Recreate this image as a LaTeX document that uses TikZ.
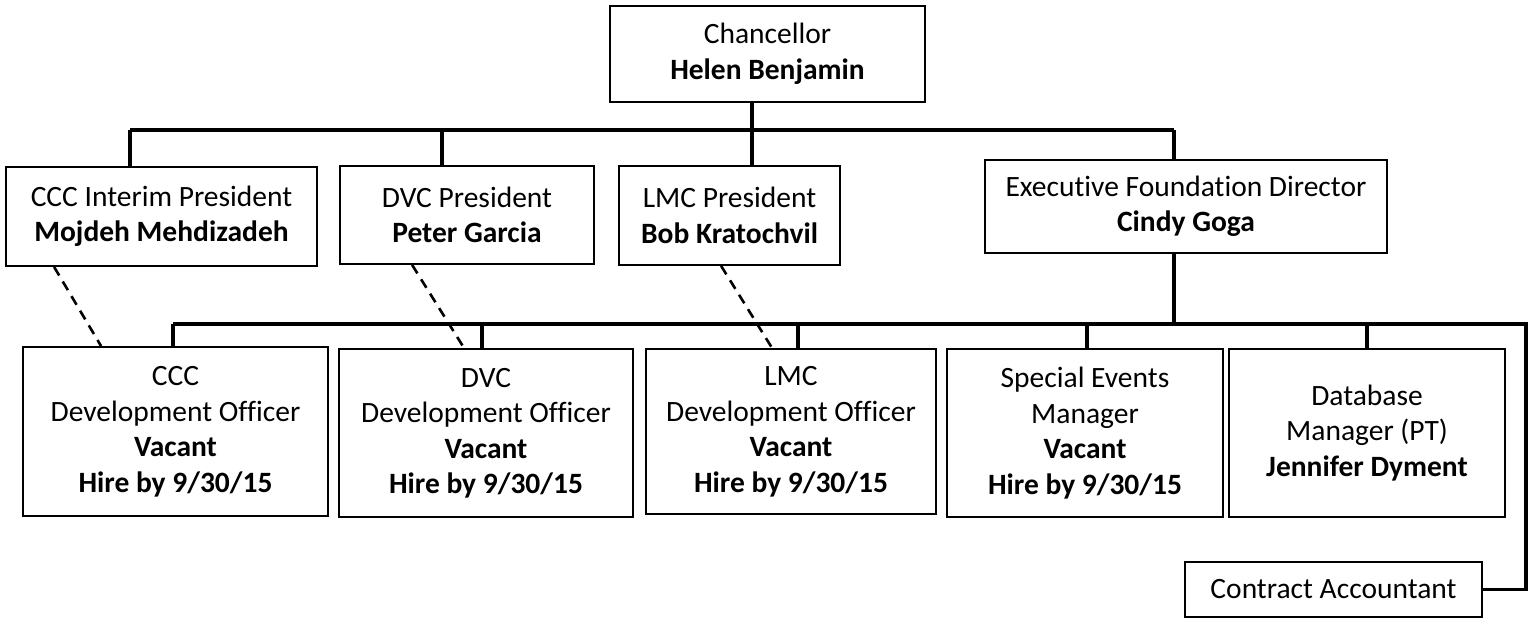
\documentclass[tikz,border=0pt]{standalone}
\usepackage{fontspec}
\setmainfont{Carlito}[Ligatures=NoCommon]
\begin{document}
\begin{tikzpicture}[x=1pt,y=-1pt,
  box/.style={draw, line width=1.8pt, inner sep=0pt, align=center,
    font=\fontsize{29.5}{35.5}\selectfont},
  conn/.style={line width=3.2pt},
  dlink/.style={line width=2.6pt, dash pattern=on 10pt off 7pt}]
\useasboundingbox (0,0) rectangle (1533,628);
% upper level
\node[box, minimum width=315pt, minimum height=96pt] (chan) at (767.5,54) {Chancellor\\\textbf{Helen Benjamin}};
\node[box, minimum width=311pt, minimum height=99pt] (ccci) at (161.5,216.5) {CCC Interim President\\\textbf{Mojdeh Mehdizadeh}};
\node[box, minimum width=254pt, minimum height=98pt] (dvcp) at (467,215) {DVC President\\\textbf{Peter Garcia}};
\node[box, minimum width=221pt, minimum height=99pt] (lmcp) at (729.5,215.5) {LMC President\\\textbf{Bob Kratochvil}};
\node[box, minimum width=402pt, minimum height=93pt] (exec) at (1186,206.5) {Executive Foundation Director\\\textbf{Cindy Goga}};
% lower level
\node[box, minimum width=305pt, minimum height=169pt] (cccd) at (175.5,431.5) {CCC\\Development Officer\\\textbf{Vacant}\\\textbf{Hire by 9/30/15}};
\node[box, minimum width=294pt, minimum height=168pt] (dvcd) at (486,433) {DVC\\Development Officer\\\textbf{Vacant}\\\textbf{Hire by 9/30/15}};
\node[box, minimum width=290pt, minimum height=165pt] (lmcd) at (791,431.5) {LMC\\Development Officer\\\textbf{Vacant}\\\textbf{Hire by 9/30/15}};
\node[box, minimum width=276pt, minimum height=168pt] (spec) at (1085,433) {Special Events\\Manager\\\textbf{Vacant}\\\textbf{Hire by 9/30/15}};
\node[box, minimum width=276pt, minimum height=168pt] (dbm) at (1367,433) {Database\\Manager (PT)\\\textbf{Jennifer Dyment}};
\node[box, minimum width=297pt, minimum height=55pt] (acct) at (1333.5,589.5) {Contract Accountant};
% junctions
\coordinate (j1) at (130,130);
\coordinate (j2) at (442,130);
\coordinate (j3) at (752,130);
\coordinate (j4) at (1174,130);
\coordinate (k0) at (1174,324);
\coordinate (k1) at (173,324);
\coordinate (k2) at (482,324);
\coordinate (k3) at (798,324);
\coordinate (k4) at (1087,324);
\coordinate (k5) at (1367,324);
\coordinate (kr) at (1526,324);
% upper connectors
\draw[conn] (j1) -- (j4);
\draw[conn] (chan.south -| j3) -- (j3);
\draw[conn] (j1) -- (j1 |- ccci.north);
\draw[conn] (j2) -- (j2 |- dvcp.north);
\draw[conn] (j3) -- (j3 |- lmcp.north);
\draw[conn] (j4) -- (j4 |- exec.north);
% lower connectors
\draw[conn] (exec.south -| k0) -- (k0);
\draw[conn] (k1) -- (kr) -- (kr |- acct.east) -- (acct.east);
\draw[conn] (k1) -- (k1 |- cccd.north);
\draw[conn] (k2) -- (k2 |- dvcd.north);
\draw[conn] (k3) -- (k3 |- lmcd.north);
\draw[conn] (k4) -- (k4 |- spec.north);
\draw[conn] (k5) -- (k5 |- dbm.north);
% dashed links
\draw[dlink] ([xshift=49pt]ccci.south west) -- ([xshift=79pt]cccd.north west);
\draw[dlink] ([xshift=73pt]dvcp.south west) -- ([xshift=126pt]dvcd.north west);
\draw[dlink] ([xshift=103pt]lmcp.south west) -- ([xshift=127pt]lmcd.north west);
\end{tikzpicture}
\end{document}
